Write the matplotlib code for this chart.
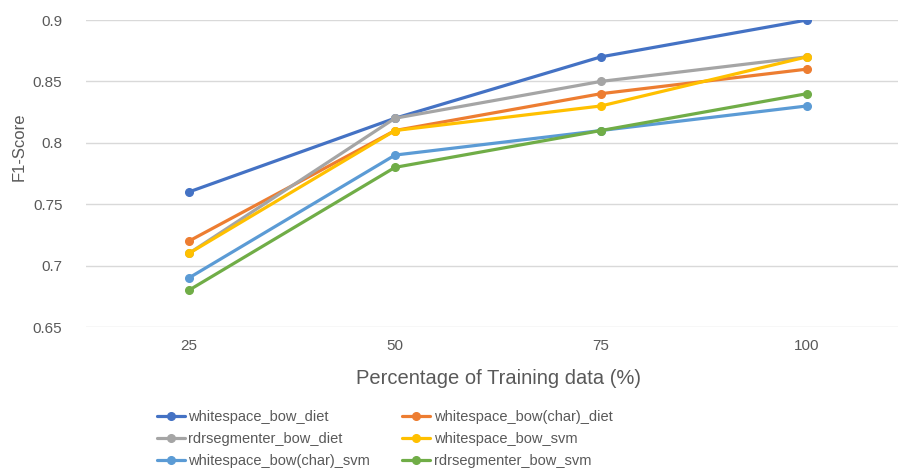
import matplotlib
matplotlib.use("Agg")
import matplotlib.pyplot as plt
import numpy as np

# === DATA ===
categories = ["25", "50", "75", "100"]
series_names = [
    "whitespace_bow_diet",
    "whitespace_bow(char)_diet",
    "rdrsegmenter_bow_diet",
    "whitespace_bow_svm",
    "whitespace_bow(char)_svm",
    "rdrsegmenter_bow_svm",
]
ws_bow_diet = [0.76, 0.82, 0.87, 0.90]
ws_bow_char_diet = [0.72, 0.81, 0.84, 0.86]
rdr_bow_diet = [0.71, 0.82, 0.85, 0.87]
ws_bow_svm = [0.71, 0.81, 0.83, 0.87]
ws_bow_char_svm = [0.69, 0.79, 0.81, 0.83]
rdr_bow_svm = [0.68, 0.78, 0.81, 0.84]
all_series = [ws_bow_diet, ws_bow_char_diet, rdr_bow_diet,
              ws_bow_svm, ws_bow_char_svm, rdr_bow_svm]
colors = ["#4472C4", "#ED7D31", "#A5A5A5", "#FFC000", "#5B9BD5", "#70AD47"]

text_color = "#595959"
plt.rcParams["font.family"] = ["Liberation Sans", "DejaVu Sans"]

fig = plt.figure(figsize=(8.98, 4.69), dpi=100)
ax = fig.add_axes([86 / 898, 142 / 469, 824 / 898, 307 / 469])

x = np.arange(len(categories))
handles = []
for name, vals, c in zip(series_names, all_series, colors):
    h, = ax.plot(x, vals, color=c, lw=2.3, marker="o", markersize=5.5,
                 label=name, solid_capstyle="round")
    handles.append(h)

ax.set_xlim(-0.5, len(categories) - 0.5)
ax.set_ylim(0.65, 0.9)
ax.set_yticks([0.65, 0.7, 0.75, 0.8, 0.85, 0.9])
ax.set_yticklabels(["0.65", "0.7", "0.75", "0.8", "0.85", "0.9"])
ax.set_xticks(x)
ax.set_xticklabels(categories)
ax.tick_params(length=0, colors=text_color, labelsize=11)
ax.tick_params(axis="y", pad=17)
ax.tick_params(axis="x", pad=9)
ax.grid(axis="y", color="#D9D9D9", lw=1)
ax.set_axisbelow(True)
for s in ax.spines.values():
    s.set_visible(False)

ax.set_xlabel("Percentage of Training data (%)", color=text_color, fontsize=14.5, labelpad=11)
fig.text(19 / 898, 1 - 147 / 469, "F1-Score", rotation=90, color=text_color,
         fontsize=12, ha="center", va="center")

order = [0, 2, 4, 1, 3, 5]
leg = fig.legend([handles[i] for i in order], [series_names[i] for i in order],
                 ncol=2, loc="upper left", bbox_to_anchor=(157 / 898, 1 - 410 / 469),
                 frameon=False, fontsize=10.5, handlelength=1.9, handletextpad=0.25,
                 columnspacing=2.2, labelspacing=0.55, borderaxespad=0, borderpad=0)
for t in leg.get_texts():
    t.set_color(text_color)

fig.savefig("out.png", dpi=100)
